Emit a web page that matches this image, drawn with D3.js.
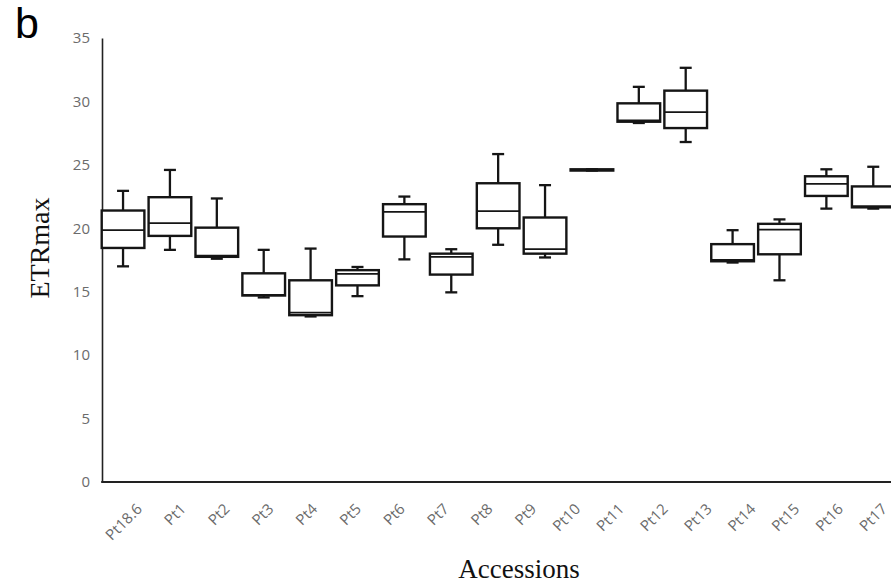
<!DOCTYPE html>
<html lang="en">
<head>
<meta charset="UTF-8">
<title>ETRmax by accession</title>
<script src="https://d3js.org/d3.v7.min.js"></script>
<style>
  html, body { margin: 0; padding: 0; background: #fff; }
  svg { display: block; }
  .tick-label { font-family: "Open Sans", sans-serif; font-size: 15px; fill: #6b6b6b; }
  .axis-title { font-family: "Liberation Serif", "Times New Roman", serif; fill: #111; }
</style>
</head>
<body>
<svg id="chart"></svg>
<script>
// accession names on the x axis
const accessions = ["Pt18.6", "Pt1", "Pt2", "Pt3", "Pt4", "Pt5", "Pt6", "Pt7", "Pt8",
  "Pt9", "Pt10", "Pt11", "Pt12", "Pt13", "Pt14", "Pt15", "Pt16", "Pt17"];

// box statistics (17 boxes are drawn)
const boxMin = [17.0, 18.3, 17.6, 14.55, 13.05, 14.65, 17.55, 14.95, 18.7, 17.7, 24.55, 28.3, 26.8, 17.3, 15.9, 21.55, 21.55];
const boxQ1  = [18.45, 19.4, 17.75, 14.7, 13.15, 15.5, 19.35, 16.35, 20.0, 18.0, 24.55, 28.4, 27.9, 17.4, 17.95, 22.55, 21.65];
const boxMed = [19.85, 20.4, 17.85, 14.75, 13.35, 16.4, 21.3, 17.75, 21.35, 18.35, 24.6, 28.5, 29.15, 17.5, 19.9, 23.5, 21.75];
const boxQ3  = [21.4, 22.45, 20.05, 16.45, 15.9, 16.7, 21.9, 18.0, 23.55, 20.85, 24.65, 29.85, 30.85, 18.75, 20.35, 24.1, 23.3];
const boxMax = [22.95, 24.6, 22.35, 18.3, 18.4, 16.95, 22.5, 18.35, 25.85, 23.4, 24.65, 31.15, 32.65, 19.85, 20.7, 24.65, 24.85];

const yTicks = [0, 5, 10, 15, 20, 25, 30, 35];

const width = 891, height = 587;
const axisX = 102;

const svg = d3.select("#chart")
  .attr("width", width)
  .attr("height", height);

const y = d3.scaleLinear().domain([0, 35]).range([482, 38]);

// boxes sit on their own band scale
const boxes = boxMed.map((m, i) => ({
  i: i, min: boxMin[i], q1: boxQ1[i], med: m, q3: boxQ3[i], max: boxMax[i]
}));
const xBox = d3.scaleBand()
  .domain(d3.range(boxes.length))
  .range([99.6, 896.7])
  .paddingInner(0.09)
  .paddingOuter(0.045);

// labels on a point scale (anchor = end of the rotated text)
const xLab = d3.scalePoint().domain(accessions).range([143, 888]);

// y axis
const yAxis = d3.axisLeft(y).tickValues(yTicks).tickSize(0).tickPadding(12);
const gy = svg.append("g").attr("transform", `translate(${axisX},0)`).call(yAxis);
gy.attr("font-size", null).attr("font-family", null);
gy.select(".domain").attr("stroke", "#222").attr("stroke-width", 1.6);
gy.selectAll("text").attr("class", "tick-label").attr("fill", null);

// x axis line
svg.append("line")
  .attr("x1", axisX - 0.8).attr("x2", width)
  .attr("y1", y(0)).attr("y2", y(0))
  .attr("stroke", "#222").attr("stroke-width", 2.2);

// x labels
svg.append("g").selectAll("text")
  .data(accessions)
  .join("text")
    .attr("class", "tick-label")
    .attr("text-anchor", "end")
    .attr("transform", d => `translate(${xLab(d)},510) rotate(-45)`)
    .text(d => d);

// box plots
const bw = xBox.bandwidth();
const g = svg.append("g").selectAll("g")
  .data(boxes)
  .join("g")
    .attr("transform", d => `translate(${xBox(d.i)},0)`)
    .attr("stroke", "#151515")
    .attr("fill", "none");

g.append("line")
  .attr("x1", bw / 2).attr("x2", bw / 2)
  .attr("y1", d => y(d.max)).attr("y2", d => y(d.q3))
  .attr("stroke-width", 2.3);
g.append("line")
  .attr("x1", bw / 2).attr("x2", bw / 2)
  .attr("y1", d => y(d.q1)).attr("y2", d => y(d.min))
  .attr("stroke-width", 2.3);
g.append("line")
  .attr("x1", bw / 2 - 6).attr("x2", bw / 2 + 6)
  .attr("y1", d => y(d.max)).attr("y2", d => y(d.max))
  .attr("stroke-width", 2.3);
g.append("line")
  .attr("x1", bw / 2 - 6).attr("x2", bw / 2 + 6)
  .attr("y1", d => y(d.min)).attr("y2", d => y(d.min))
  .attr("stroke-width", 2.3);
g.append("rect")
  .attr("x", 0).attr("width", bw)
  .attr("y", d => y(d.q3))
  .attr("height", d => y(d.q1) - y(d.q3))
  .attr("fill", "#fff")
  .attr("stroke-width", 2.4);
g.append("line")
  .attr("x1", 0).attr("x2", bw)
  .attr("y1", d => y(d.med)).attr("y2", d => y(d.med))
  .attr("stroke-width", 1.8);

// titles
svg.append("text")
  .attr("class", "axis-title")
  .attr("font-size", 28)
  .attr("text-anchor", "middle")
  .attr("transform", "translate(49,248) rotate(-90)")
  .text("ETRmax");

svg.append("text")
  .attr("class", "axis-title")
  .attr("font-size", 27)
  .attr("text-anchor", "middle")
  .attr("x", 519).attr("y", 578)
  .text("Accessions");

svg.append("text")
  .attr("font-family", "Liberation Sans, Arial, sans-serif")
  .attr("font-size", 43)
  .attr("x", 15).attr("y", 38)
  .attr("fill", "#000")
  .text("b");
</script>
</body>
</html>
